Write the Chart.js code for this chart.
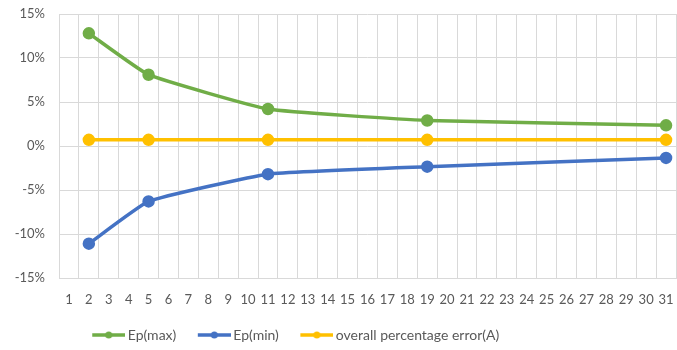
<!DOCTYPE html>
<html>
<head>
<meta charset="utf-8">
<script src="https://cdn.jsdelivr.net/npm/chart.js@4/dist/chart.umd.min.js"></script>
<style>
  html, body { margin: 0; padding: 0; background: #fff; overflow: hidden; }
  /* a few px wider than the window so the plot runs up to the right edge */
  #wrap { width: 684px; height: 350px; }
</style>
</head>
<body>
<div id="wrap"><canvas id="errChart"></canvas></div>
<script>
// x axis categories 1..31 and the measured points
const xLabels = ['1','2','3','4','5','6','7','8','9','10','11','12','13','14','15','16',
                 '17','18','19','20','21','22','23','24','25','26','27','28','29','30','31'];
const xPoints = ['2', '5', '11', '19', '31'];
const epMax = [12.8, 8.1, 4.2, 2.9, 2.35];
const epMin = [-11.1, -6.3, -3.2, -2.35, -1.35];
const overallErr = [0.7, 0.7, 0.7, 0.7, 0.7];
const yTicks = [-15, -10, -5, 0, 5, 10, 15];

const green = '#70AD47';
const blue = '#4472C4';
const gold = '#FFC000';

function toPoints(values) {
    return values.map((v, i) => ({ x: xPoints[i], y: v }));
}

// legend sample: line with a dot, pushed to the right end of the image
// so there is room between one entry's text and the next sample
function legendMark(color) {
    const c = document.createElement('canvas');
    c.width = 49;
    c.height = 10;
    const g = c.getContext('2d');
    g.strokeStyle = color;
    g.lineWidth = 3.5;
    g.beginPath();
    g.moveTo(16, 5);
    g.lineTo(49, 5);
    g.stroke();
    g.fillStyle = color;
    g.beginPath();
    g.arc(32.5, 5, 3.5, 0, Math.PI * 2);
    g.fill();
    return c;
}

function makeSet(label, values, color) {
    return {
        label: label,
        data: toPoints(values),
        borderColor: color,
        backgroundColor: color,
        borderWidth: 3.5,
        pointRadius: 4.5,
        pointHoverRadius: 4.5,
        pointBackgroundColor: color,
        pointBorderColor: color,
        tension: 0.12,
        spanGaps: true
    };
}

// legend sits left of centre
const legendShift = {
    id: 'legendShift',
    afterLayout(chart) {
        const lg = chart.legend;
        lg.left -= 52;
        lg.right -= 52;
        lg.top += 2;
        lg.bottom += 2;
    }
};

const fontFam = 'Lato, "Open Sans", sans-serif';

new Chart(document.getElementById('errChart').getContext('2d'), {
    type: 'line',
    data: {
        labels: xLabels,
        datasets: [
            makeSet('Ep(max)', epMax, green),
            makeSet('Ep(min)', epMin, blue),
            makeSet('overall percentage error(A)', overallErr, gold)
        ]
    },
    plugins: [legendShift],
    options: {
        responsive: true,
        maintainAspectRatio: false,
        animation: false,
        layout: { padding: { top: 0, right: 0, left: 0, bottom: 0 } },
        plugins: {
            tooltip: { enabled: false },
            legend: {
                position: 'bottom',
                labels: {
                    usePointStyle: true,
                    pointStyleWidth: 40,
                    boxHeight: 10,
                    padding: 10,
                    color: '#595959',
                    font: { family: fontFam, size: 14 },
                    generateLabels: function (chart) {
                        const items = Chart.defaults.plugins.legend.labels.generateLabels(chart);
                        items.forEach(it => {
                            it.pointStyle = legendMark(chart.data.datasets[it.datasetIndex].borderColor);
                        });
                        return items;
                    }
                }
            }
        },
        scales: {
            x: {
                type: 'category',
                offset: true,
                afterFit: function (scale) {
                    scale.height = 38;
                    scale.paddingLeft = 0;
                    scale.paddingRight = 0;
                },
                grid: { offset: true, color: '#d9d9d9', lineWidth: 1, drawTicks: false },
                border: { color: '#d9d9d9' },
                ticks: {
                    autoSkip: false,
                    maxRotation: 0,
                    padding: 14,
                    color: '#595959',
                    font: { family: fontFam, size: 13 }
                }
            },
            y: {
                min: -15,
                max: 15,
                afterBuildTicks: function (axis) {
                    axis.ticks = yTicks.map(v => ({ value: v }));
                },
                afterFit: function (scale) {
                    scale.width = 59;
                    scale.paddingTop = 14;
                },
                grid: { color: '#d9d9d9', lineWidth: 1, drawTicks: false },
                border: { display: false },
                ticks: {
                    padding: 14,
                    color: '#595959',
                    font: { family: fontFam, size: 13 },
                    callback: v => v + '%'
                }
            }
        }
    }
});
</script>
</body>
</html>
